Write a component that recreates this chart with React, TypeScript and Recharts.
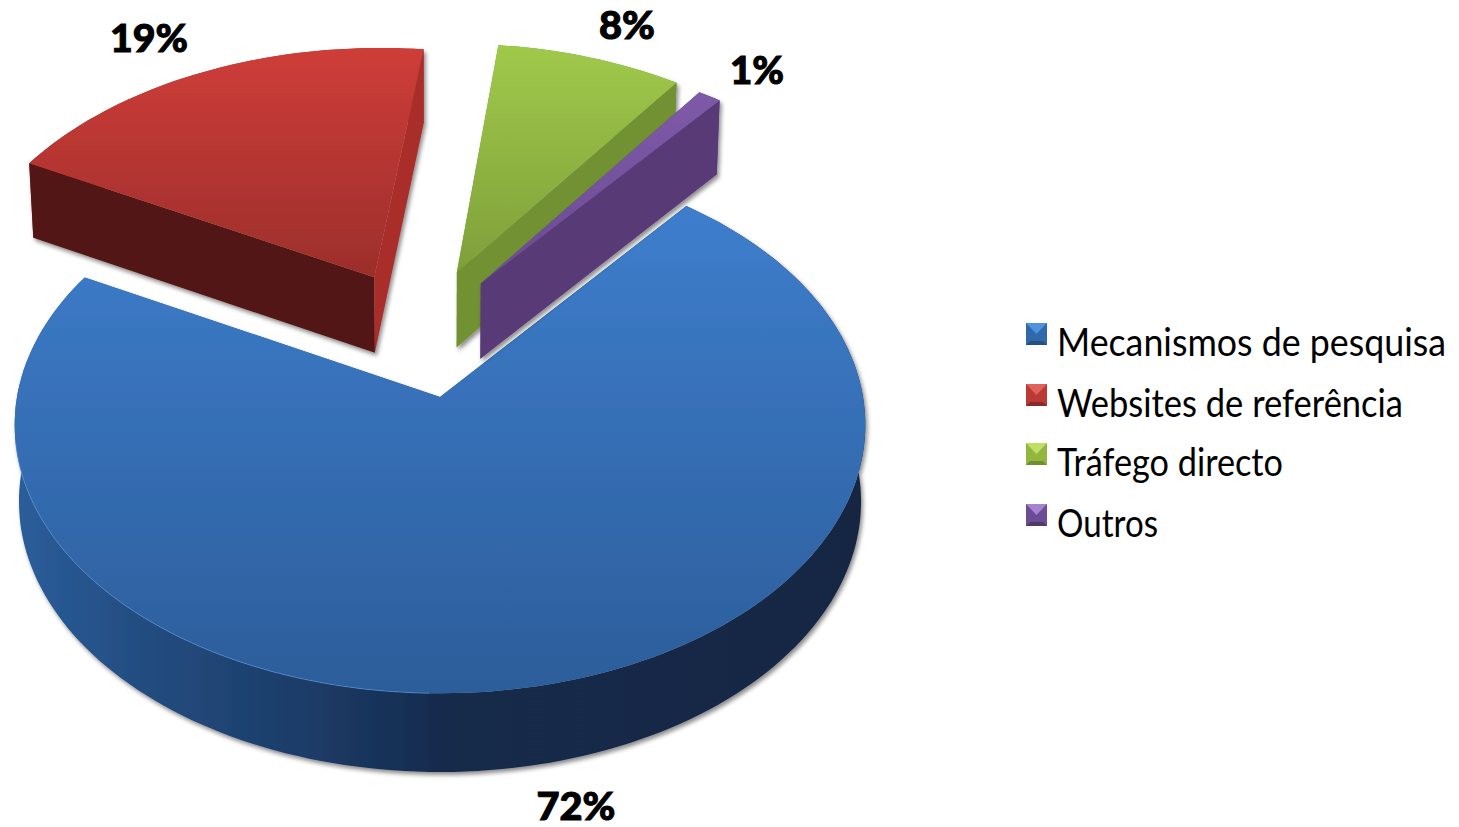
import React from "react";
import { PieChart, Pie, Legend } from "recharts";

const categories = ["Mecanismos de pesquisa", "Websites de referência", "Tráfego directo", "Outros"];
const shares = [72, 19, 8, 1];
const percentLabels = ["72%", "19%", "8%", "1%"];

const rows = categories.map((name, i) => ({ name, value: shares[i] }));

// how far each slice is pulled out of the pie, in pie radii (flat, before the tilt)
const pullOut = [
  [0, 0],
  [-0.163, -0.473],
  [0.042, -0.494],
  [0.101, -0.448],
];
// pulled slices come closer to the camera, so they read a bit larger
const sliceScaleX = [1, 1.028, 1.028, 1.028];
const sliceScaleY = [1, 1.05, 1.05, 1.05];

const faces = [
  { top: "url(#faceBlue)", outer: "url(#wallBlue)", first: "#2a5b96", last: "#2a5b96", rim: "#5c97e0" },
  { top: "url(#faceRed)", outer: "#a92f2b", first: "#521512", last: "#a92f2b", rim: "none" },
  { top: "url(#faceGreen)", outer: "#719133", first: "#719133", last: "#719133", rim: "none" },
  { top: "url(#facePurple)", outer: "#583b76", first: "#583b76", last: "#583b76", rim: "none" },
];

const swatches = [
  { top: "#4f93dc", bottom: "#25507f", mid: "#2f68ab" },
  { top: "#e0625c", bottom: "#8a2a28", mid: "#bb3a36" },
  { top: "#bfe067", bottom: "#6f8f30", mid: "#93b63f" },
  { top: "#a583d0", bottom: "#4f3a6c", mid: "#6c4c94" },
];

const labelSpots = [
  { x: 576, y: 820, w: 79 },
  { x: 149, y: 52, w: 78 },
  { x: 627, y: 39, w: 56 },
  { x: 757, y: 84, w: 54 },
];
const legendWidths = [389, 346, 226, 101];
const LEGEND_SQUEEZE = 0.917;

const TILT = 0.104;
const SQUASH = 0.6276;

const SliceShape = (props: any) => {
  const { cx, cy, outerRadius: R, startAngle, endAngle } = props;
  const i = categories.indexOf(props.name ?? props.payload?.name);
  const [du, dv] = pullOut[i];
  const f = faces[i];

  const top = (u: number, v: number): [number, number] => {
    const w = 1 - TILT * v;
    return [cx + (R * u) / w, cy + (R * SQUASH * v) / w];
  };
  const onRim = (deg: number) => {
    const a = (deg * Math.PI) / 180;
    return top(du + sliceScaleX[i] * Math.cos(a), dv - sliceScaleY[i] * Math.sin(a));
  };
  const drop = ([x, y]: [number, number]): [number, number] => [cx + (x - cx) * 0.99, y + 74 + (y - 100) * 0.008];
  const d = (pts: [number, number][]) => "M" + pts.map((p) => p[0].toFixed(1) + "," + p[1].toFixed(1)).join("L") + "Z";

  const steps = Math.max(4, Math.ceil(Math.abs(endAngle - startAngle) / 1.5));
  const arc: [number, number][] = [];
  for (let s = 0; s <= steps; s++) arc.push(onRim(startAngle + ((endAngle - startAngle) * s) / steps));
  const tip = top(du, dv);
  const a0 = arc[0];
  const a1 = arc[arc.length - 1];
  // only the lit front-left stretch of the edge carries a highlight
  const frontRim = arc.filter((p) => p[1] > cy + 40 && p[0] < cx);

  return (
    <g filter="url(#softShadow)">
      <path d={d([...arc, ...arc.map(drop).reverse()])} fill={f.outer} />
      <path d={d([tip, a0, drop(a0), drop(tip)])} fill={f.first} />
      <path d={d([tip, a1, drop(a1), drop(tip)])} fill={f.last} />
      <path d={d([tip, ...arc])} fill={f.top} />
      {f.rim !== "none" && (
        <path
          d={"M" + frontRim.map((p) => p[0].toFixed(1) + "," + p[1].toFixed(1)).join("L")}
          fill="none"
          stroke={f.rim}
          strokeWidth={1}
          strokeOpacity={0.6}
        />
      )}
    </g>
  );
};

const renderLabel = ({ index }: any) => {
  const s = labelSpots[index];
  return (
    <text
      x={s.x}
      y={s.y}
      textAnchor="middle"
      textLength={s.w}
      lengthAdjust="spacingAndGlyphs"
      fontFamily="'Lato Black', Lato"
      fontWeight={900}
      fontSize={38}
      stroke="#000"
      strokeWidth={1}
      fill="#000"
    >
      {percentLabels[index]}
    </text>
  );
};

const LegendBox = () => (
  <svg width={439} height={240} style={{ display: "block" }}>
    {categories.map((name, i) => {
      const y = 13 + [0, 61, 120, 181][i];
      const s = swatches[i];
      return (
        <g key={name}>
          <rect x={16} y={y} width={21} height={22} fill={s.mid} />
          <polygon points={`16,${y} 37,${y} 26.5,${y + 11}`} fill={s.top} />
          <polygon points={`16,${y + 22} 37,${y + 22} 33,${y + 18} 20,${y + 18}`} fill={s.bottom} />
          <text
            transform={`translate(47 ${y + 33}) scale(${LEGEND_SQUEEZE} 1)`}
            textLength={legendWidths[i] / LEGEND_SQUEEZE}
            lengthAdjust="spacingAndGlyphs"
            fontFamily="Lato"
            fontSize={39}
            fill="#000"
          >
            {name}
          </text>
        </g>
      );
    })}
  </svg>
);

export default function App() {
  return (
    <div style={{ position: "absolute", left: 0, top: 0, width: 1459, height: 827, background: "#fff" }}>
      <PieChart width={1459} height={827} margin={{ top: 0, right: 0, bottom: 0, left: 0 }}>
        <defs>
          <linearGradient id="faceBlue" gradientUnits="userSpaceOnUse" x1="0" y1="203" x2="0" y2="694">
            <stop offset="0" stopColor="#3e7ecd" />
            <stop offset="1" stopColor="#2c5d9a" />
          </linearGradient>
          <linearGradient id="wallBlue" gradientUnits="userSpaceOnUse" x1="18" y1="0" x2="862" y2="0">
            <stop offset="0" stopColor="#2b5d9a" />
            <stop offset="0.15" stopColor="#234c80" />
            <stop offset="0.34" stopColor="#1c3c68" />
            <stop offset="0.52" stopColor="#15294a" />
            <stop offset="1" stopColor="#152843" />
          </linearGradient>
          <linearGradient id="faceRed" gradientUnits="userSpaceOnUse" x1="0" y1="47" x2="0" y2="277">
            <stop offset="0" stopColor="#cf3d39" />
            <stop offset="1" stopColor="#9c2e2b" />
          </linearGradient>
          <linearGradient id="faceGreen" gradientUnits="userSpaceOnUse" x1="0" y1="46" x2="0" y2="272">
            <stop offset="0" stopColor="#a0c94a" />
            <stop offset="1" stopColor="#7f9f3a" />
          </linearGradient>
          <linearGradient id="facePurple" gradientUnits="userSpaceOnUse" x1="0" y1="92" x2="0" y2="283">
            <stop offset="0" stopColor="#7e5aa8" />
            <stop offset="1" stopColor="#6b4a94" />
          </linearGradient>
          <filter id="softShadow" x="-10%" y="-10%" width="120%" height="120%">
            <feDropShadow dx="2" dy="3" stdDeviation="2" floodColor="#000" floodOpacity="0.45" />
          </filter>
        </defs>
        <Pie
          data={rows}
          dataKey="value"
          nameKey="name"
          cx={440}
          cy={397}
          innerRadius={0}
          outerRadius={423}
          startAngle={51}
          endAngle={-309}
          stroke="none"
          shape={SliceShape}
          label={renderLabel}
          labelLine={false}
          isAnimationActive={false}
        />
        <Legend
          layout="vertical"
          align="center"
          verticalAlign="middle"
          content={<LegendBox />}
          wrapperStyle={{ position: "absolute", left: 1010, top: 310, width: 439, height: 240 }}
        />
      </PieChart>
    </div>
  );
}
